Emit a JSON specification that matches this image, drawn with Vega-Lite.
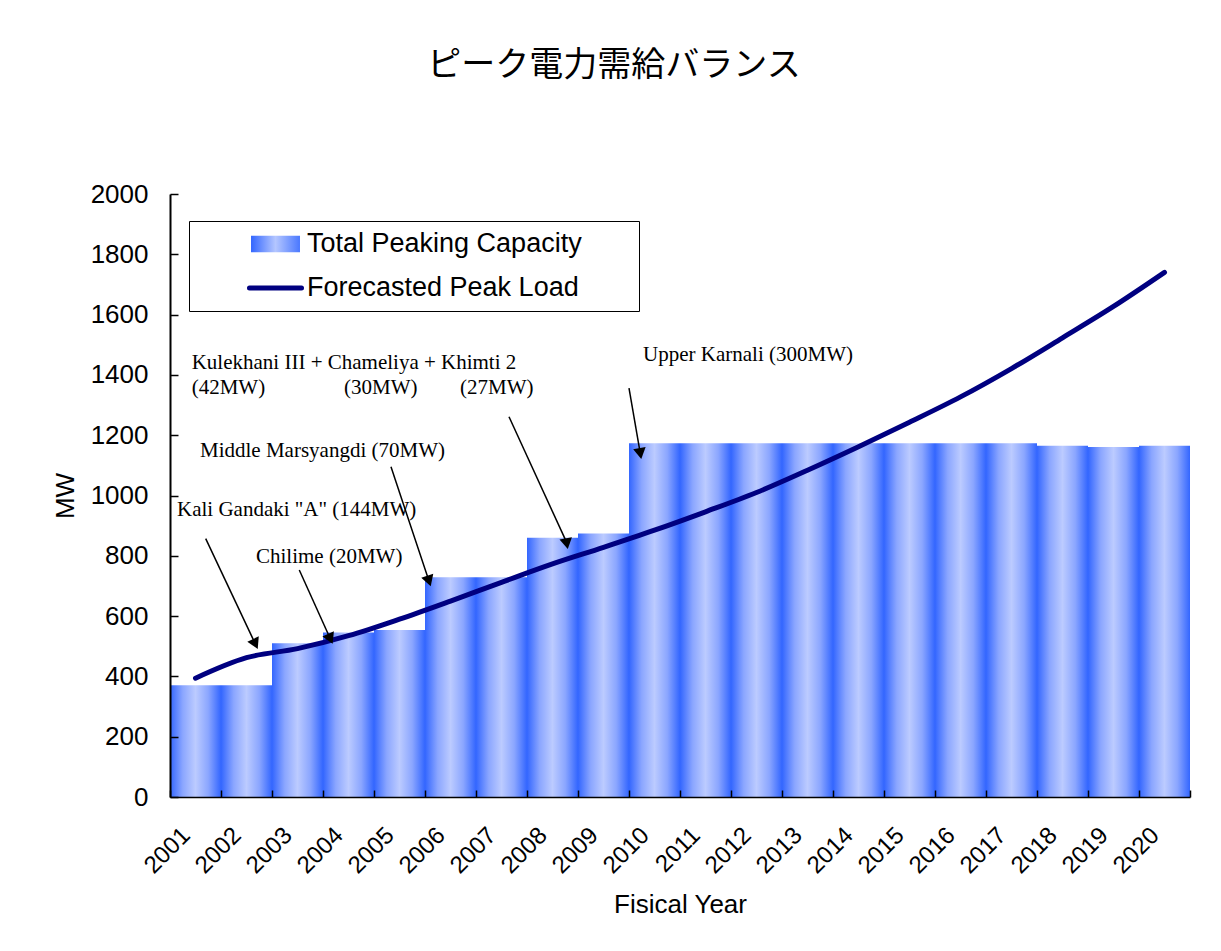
{
  "$schema": "https://vega.github.io/schema/vega-lite/v6.json",
  "width": 1020,
  "height": 603,
  "autosize": {"type": "none"},
  "padding": {"left": 170, "top": 194, "right": 31, "bottom": 154},
  "title": {
    "text": "ピーク電力需給バランス",
    "font": "Noto Sans CJK JP",
    "fontSize": 34,
    "fontWeight": "normal",
    "color": "black",
    "anchor": "middle",
    "offset": 98,
    "dx": -66
  },
  "datasets": {
    "main": [
      {"year": "2001", "capacity": 371, "load": 394},
      {"year": "2002", "capacity": 371, "load": 462},
      {"year": "2003", "capacity": 510, "load": 492},
      {"year": "2004", "capacity": 546, "load": 535},
      {"year": "2005", "capacity": 554, "load": 590},
      {"year": "2006", "capacity": 729, "load": 650},
      {"year": "2007", "capacity": 729, "load": 712},
      {"year": "2008", "capacity": 860, "load": 773},
      {"year": "2009", "capacity": 874, "load": 828},
      {"year": "2010", "capacity": 1173, "load": 885},
      {"year": "2011", "capacity": 1173, "load": 946},
      {"year": "2012", "capacity": 1173, "load": 1010},
      {"year": "2013", "capacity": 1173, "load": 1084},
      {"year": "2014", "capacity": 1173, "load": 1162},
      {"year": "2015", "capacity": 1173, "load": 1243},
      {"year": "2016", "capacity": 1173, "load": 1327},
      {"year": "2017", "capacity": 1173, "load": 1421},
      {"year": "2018", "capacity": 1165, "load": 1523},
      {"year": "2019", "capacity": 1161, "load": 1627},
      {"year": "2020", "capacity": 1165, "load": 1740}
    ],
    "notes": [
      {"label": "Kulekhani III + Chameliya + Khimti 2", "x": 2000.925, "y": 1419},
      {"label": "(42MW)", "x": 2000.925, "y": 1337},
      {"label": "(30MW)", "x": 2003.912, "y": 1337},
      {"label": "(27MW)", "x": 2006.186, "y": 1337},
      {"label": "Middle Marsyangdi (70MW)", "x": 2001.088, "y": 1127},
      {"label": "Kali Gandaki \"A\" (144MW)", "x": 2000.637, "y": 932},
      {"label": "Chilime (20MW)", "x": 2002.186, "y": 777},
      {"label": "Upper Karnali (300MW)", "x": 2009.775, "y": 1446}
    ],
    "arrows": [
      {"x": 2001.2, "y": 857, "x2": 2002.159, "y2": 513, "angle": 154.8},
      {"x": 2003.035, "y": 753, "x2": 2003.63, "y2": 530, "angle": 155.7},
      {"x": 2004.833, "y": 1095, "x2": 2005.567, "y2": 722, "angle": 161.6},
      {"x": 2007.147, "y": 1261, "x2": 2008.273, "y2": 846, "angle": 169.4},
      {"x": 2009.5, "y": 1356, "x2": 2009.716, "y2": 1145, "angle": 170.2}
    ]
  },
  "resolve": {"scale": {"x": "independent"}},
  "layer": [
    {
      "data": {"name": "main"},
      "mark": {
        "type": "bar",
        "fill": {
          "gradient": "linear", "x1": 0, "y1": 0, "x2": 1, "y2": 0,
          "stops": [
            {"offset": 0, "color": "#3366ff"},
            {"offset": 0.25, "color": "#8ba6ff"},
            {"offset": 0.5, "color": "#bccbff"},
            {"offset": 0.75, "color": "#8ba6ff"},
            {"offset": 1, "color": "#3366ff"}
          ]
        }
      },
      "encoding": {
        "x": {
          "field": "year", "type": "ordinal",
          "scale": {"paddingInner": 0, "paddingOuter": 0},
          "axis": {
            "title": "Fisical Year",
            "titleFont": "Liberation Sans", "titleFontSize": 26, "titleFontWeight": "normal", "titleColor": "black",
            "titlePadding": 14,
            "labelFont": "Liberation Sans", "labelFontSize": 24, "labelColor": "black",
            "labelAngle": -45, "labelAlign": "right", "labelBaseline": "top",
            "labelOffset": -18, "labelPadding": 33,
            "tickBand": "extent", "tickSize": -7, "tickColor": "black", "tickWidth": 1.5,
            "domainColor": "black", "domainWidth": 1.5, "grid": false, "zindex": 2
          }
        },
        "y": {
          "field": "capacity", "type": "quantitative",
          "scale": {"domain": [0, 2000], "nice": false},
          "axis": {
            "title": "MW",
            "titleFont": "Liberation Sans", "titleFontSize": 26, "titleFontWeight": "normal", "titleColor": "black",
            "titlePadding": 12,
            "values": [0, 200, 400, 600, 800, 1000, 1200, 1400, 1600, 1800, 2000],
            "format": "d",
            "labelFont": "Liberation Sans", "labelFontSize": 26, "labelColor": "black",
            "labelPadding": 30,
            "tickSize": -8, "tickColor": "black", "tickWidth": 1.5,
            "domainColor": "black", "domainWidth": 2, "grid": false, "zindex": 2
          }
        }
      }
    },
    {
      "data": {"name": "main"},
      "mark": {"type": "line", "strokeWidth": 5, "interpolate": "monotone", "strokeCap": "round"},
      "encoding": {
        "x": {"field": "year", "type": "ordinal", "scale": {"paddingInner": 0, "paddingOuter": 0}, "axis": null},
        "y": {"field": "load", "type": "quantitative", "scale": {"domain": [0, 2000], "nice": false}},
        "color": {
          "datum": "Forecasted Peak Load",
          "scale": {"domain": ["Total Peaking Capacity", "Forecasted Peak Load"], "range": ["#7b98ff", "#000080"]},
          "legend": {
            "orient": "none", "legendX": 19, "legendY": 27,
            "title": "\u00a0", "titleOrient": "right", "titlePadding": 48, "titleFontSize": 2,
            "strokeColor": "black", "fillColor": "white", "padding": 9.5,
            "labelFont": "Liberation Sans", "labelFontSize": 27, "labelColor": "black", "labelLimit": 0,
            "labelOffset": 18, "symbolOffset": 63.5, "rowPadding": 16, "symbolSize": 23716,
            "encode": {
              "symbols": {
                "update": {
                  "shape": {"signal": "datum.index === 0 ? 'M-0.318,-0.108H0.318V0.108H-0.318Z' : 'M-0.338,0H0.338'"},
                  "fill": {"signal": "datum.index === 0 ? {gradient: 'linear', x1: 0, y1: 0, x2: 1, y2: 0, stops: [{offset: 0, color: '#3366ff'}, {offset: 0.5, color: '#b4c6ff'}, {offset: 1, color: '#4a78ff'}]} : 'transparent'"},
                  "stroke": {"signal": "datum.index === 0 ? 'transparent' : '#000080'"},
                  "strokeWidth": {"signal": "datum.index === 0 ? 0 : 5"},
                  "strokeCap": {"value": "round"},
                  "size": {"value": 23716},
                  "opacity": {"value": 1}
                }
              }
            }
          }
        }
      }
    },
    {
      "data": {"name": "arrows"},
      "mark": {"type": "rule", "color": "black", "strokeWidth": 1.5},
      "encoding": {
        "x": {"field": "x", "type": "quantitative", "scale": {"domain": [2000.5, 2020.5], "nice": false, "zero": false}, "axis": null},
        "y": {"field": "y", "type": "quantitative", "scale": {"domain": [0, 2000], "nice": false}},
        "x2": {"field": "x2"},
        "y2": {"field": "y2"}
      }
    },
    {
      "data": {"name": "arrows"},
      "mark": {"type": "point", "shape": "triangle", "filled": true, "color": "black", "opacity": 1, "size": 160},
      "encoding": {
        "x": {"field": "x2", "type": "quantitative", "scale": {"domain": [2000.5, 2020.5], "nice": false, "zero": false}, "axis": null},
        "y": {"field": "y2", "type": "quantitative", "scale": {"domain": [0, 2000], "nice": false}},
        "angle": {"field": "angle", "type": "quantitative", "scale": null}
      }
    },
    {
      "data": {"name": "notes"},
      "mark": {"type": "text", "align": "left", "baseline": "alphabetic", "font": "Liberation Serif", "fontSize": 21, "color": "black"},
      "encoding": {
        "x": {"field": "x", "type": "quantitative", "scale": {"domain": [2000.5, 2020.5], "nice": false, "zero": false}, "axis": null},
        "y": {"field": "y", "type": "quantitative", "scale": {"domain": [0, 2000], "nice": false}},
        "text": {"field": "label"}
      }
    }
  ],
  "config": {
    "view": {"stroke": null},
    "font": "Liberation Sans"
  }
}
